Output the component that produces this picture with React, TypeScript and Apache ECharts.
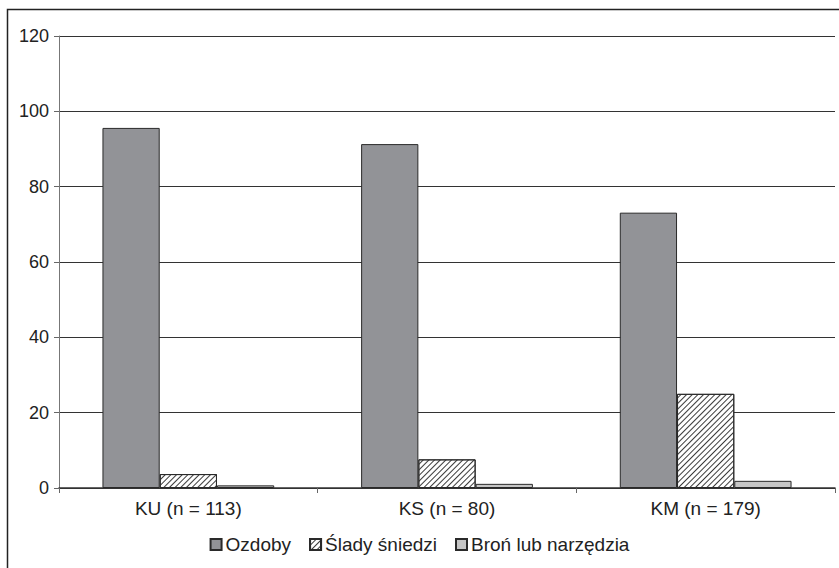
import React, { useEffect, useRef } from "react";
import * as echarts from "echarts";

const categories = ["KU (n = 113)", "KS (n = 80)", "KM (n = 179)"];
const seriesNames = ["Ozdoby", "Ślady śniedzi", "Broń lub narzędzia"];
const ozdoby = [95.6, 91.3, 73.1];
const slady = [3.7, 7.6, 25.0];
const bron = [0.7, 1.1, 1.9];

export default function App() {
  const ref = useRef<HTMLDivElement>(null);
  useEffect(() => {
    if (!ref.current) return;
    const chart = echarts.init(ref.current, undefined, { renderer: "svg" });
    const font = "Liberation Sans, Arial, sans-serif";
    const border = { borderColor: "#2a2a2a", borderWidth: 1 };
    chart.setOption({
      animation: false,
      backgroundColor: "#ffffff",
      textStyle: { fontFamily: font },
      graphic: [
        {
          type: "rect",
          shape: { x: 7.5, y: 9.5, width: 900, height: 700 },
          style: { fill: "none", stroke: "#222", lineWidth: 1.5 },
          silent: true,
          z: -10,
        },
      ],
      grid: { left: 59, right: 4, top: 36, bottom: 80, containLabel: false },
      legend: {
        bottom: 9,
        left: "center",
        icon: "rect",
        itemWidth: 11,
        itemHeight: 11,
        itemGap: 18,
        textStyle: { fontSize: 19, color: "#222", fontFamily: font, padding: [0, 0, 0, -1] },
        data: seriesNames,
      },
      xAxis: {
        type: "category",
        data: categories,
        axisLine: { lineStyle: { color: "#333", width: 1.5 } },
        axisTick: { show: true, length: 5, lineStyle: { color: "#666" } },
        axisLabel: { fontSize: 19, color: "#222", margin: 11 },
      },
      yAxis: {
        type: "value",
        min: 0,
        max: 120,
        interval: 20,
        axisLine: { show: true, lineStyle: { color: "#777", width: 1 } },
        axisTick: { show: true, length: 5, lineStyle: { color: "#666" } },
        axisLabel: { fontSize: 18, color: "#222", margin: 10 },
        splitLine: { lineStyle: { color: "#333", width: 1.2 } },
      },
      series: [
        {
          name: seriesNames[0],
          type: "bar",
          data: ozdoby,
          barGap: "0%",
          barCategoryGap: "33.6%",
          itemStyle: { color: "#929397", ...border },
        },
        {
          name: seriesNames[1],
          type: "bar",
          data: slady,
          itemStyle: {
            color: "#ffffff",
            ...border,
            decal: {
              symbol: "rect",
              symbolSize: 1,
              color: "#3a3a3a",
              backgroundColor: "#ffffff",
              dashArrayX: [1, 0],
              dashArrayY: [1, 2.2],
              rotation: -Math.PI / 4,
            },
          },
        },
        {
          name: seriesNames[2],
          type: "bar",
          data: bron,
          itemStyle: { color: "#c6c6c6", ...border },
        },
      ],
    });
    return () => chart.dispose();
  }, []);
  return (
    <div
      ref={ref}
      style={{ position: "fixed", left: 0, top: 0, width: 839, height: 568 }}
    />
  );
}
